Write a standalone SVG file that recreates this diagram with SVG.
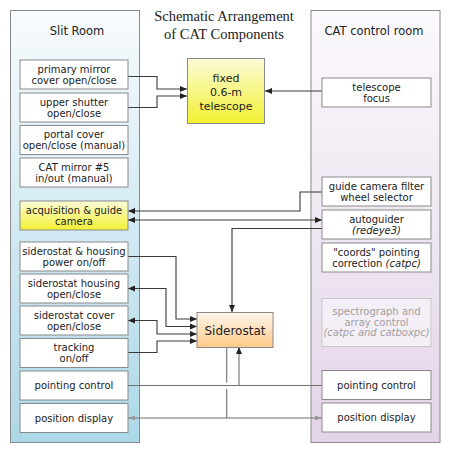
<svg xmlns="http://www.w3.org/2000/svg" width="452" height="452" viewBox="0 0 452 452">
<style>
.bx{fill:#fff;stroke:#8a8a8a;stroke-width:1}
.t{font-family:"DejaVu Sans",Verdana,sans-serif;font-size:10px;fill:#222;text-anchor:middle}
.it{font-style:italic}
.hd{font-family:"DejaVu Sans",Verdana,sans-serif;font-size:11.5px;fill:#222;text-anchor:middle}
.ttl{font-family:"Liberation Serif","Times New Roman",serif;font-size:14.5px;fill:#222;text-anchor:middle}
.ln{fill:none;stroke:#3a3a3a;stroke-width:1.1}
.lg{fill:none;stroke:#707070;stroke-width:1.1}
</style>
<defs>
<linearGradient id="gL" x1="0" y1="0" x2="0" y2="1"><stop offset="0" stop-color="#f8fbfd"/><stop offset="1" stop-color="#acd8e8"/></linearGradient>
<linearGradient id="gR" x1="0" y1="0" x2="0" y2="1"><stop offset="0" stop-color="#fbf9fc"/><stop offset="1" stop-color="#e3d4e9"/></linearGradient>
<linearGradient id="gY" x1="0" y1="0" x2="0" y2="1"><stop offset="0" stop-color="#fcfcd8"/><stop offset="1" stop-color="#f3f032"/></linearGradient>
<linearGradient id="gO" x1="0" y1="0" x2="0" y2="1"><stop offset="0" stop-color="#fff6ec"/><stop offset="1" stop-color="#ffca88"/></linearGradient>
<marker id="ae" markerUnits="userSpaceOnUse" markerWidth="8" markerHeight="8" refX="7" refY="4" orient="auto"><path d="M0,1 L7,4 L0,7 Z" fill="#222"/></marker>
<marker id="as" markerUnits="userSpaceOnUse" markerWidth="8" markerHeight="8" refX="0" refY="4" orient="auto"><path d="M7,1 L0,4 L7,7 Z" fill="#222"/></marker>
<marker id="ge" markerUnits="userSpaceOnUse" markerWidth="8" markerHeight="8" refX="7" refY="4" orient="auto"><path d="M0,1.5 L7,4 L0,6.5 Z" fill="#999"/></marker>
<marker id="gs" markerUnits="userSpaceOnUse" markerWidth="8" markerHeight="8" refX="0" refY="4" orient="auto"><path d="M7,1.5 L0,4 L7,6.5 Z" fill="#999"/></marker>
</defs>
<rect width="452" height="452" fill="#fff"/>
<g id="slit-room">
<rect x="10.5" y="10.5" width="129" height="432" fill="url(#gL)" stroke="#8a8a8a"/>
<text class="hd" x="77" y="35">Slit Room</text>
</g>
<g id="control-room">
<rect x="311" y="10.5" width="129" height="432" fill="url(#gR)" stroke="#8a8a8a"/>
<text class="hd" x="374" y="35">CAT control room</text>
</g>
<g id="title">
<text class="ttl" x="224" y="21">Schematic Arrangement</text>
<text class="ttl" x="224" y="39">of CAT Components</text>
</g>
<g id="connectors">
<path class="ln" d="M128,76.5 H157 V89 H187" marker-end="url(#ae)"/>
<path class="ln" d="M128,107.5 H157 V96 H187" marker-end="url(#ae)"/>
<path class="ln" d="M322,91 H265" marker-end="url(#ae)"/>
<path class="ln" d="M322,192 H300 V211 H128" marker-end="url(#ae)"/>
<path class="ln" d="M128,220 H322" marker-start="url(#as)" marker-end="url(#ae)"/>
<path class="ln" d="M322,228.5 H232 V312" marker-end="url(#ae)"/>
<path class="ln" d="M128,256.5 H176 V319 H197" marker-end="url(#ae)"/>
<path class="ln" d="M128,288.5 H166 V326.5 H197" marker-start="url(#as)" marker-end="url(#ae)"/>
<path class="ln" d="M128,320.5 H157 V334 H197" marker-start="url(#as)" marker-end="url(#ae)"/>
<path class="ln" d="M128,352.5 H157 V341 H197" marker-end="url(#ae)"/>
<path class="lg" d="M128,385.5 H322"/>
<path class="lg" d="M239,385.5 V347" marker-end="url(#ae)"/>
<path class="lg" d="M226.7,347 V382.5 M226.7,389 V418"/>
<path class="lg" d="M128,418 H322" marker-start="url(#gs)" marker-end="url(#ge)"/>
</g>
<g id="telescope">
<rect x="187.5" y="58.5" width="77" height="65" fill="url(#gY)" stroke="#8a8a8a"/>
<text class="t" style="font-size:11px" x="226" y="82">fixed</text>
<text class="t" style="font-size:11px" x="226" y="96">0.6-m</text>
<text class="t" style="font-size:11px" x="226" y="110">telescope</text>
</g>
<g id="siderostat">
<rect x="197" y="312.5" width="76" height="35" fill="url(#gO)" stroke="#8a8a8a"/>
<text class="t" style="font-size:12px" x="235" y="335">Siderostat</text>
</g>
<g id="primary-mirror"><rect class="bx" x="20" y="60" width="108" height="29"/><text class="t" x="74" y="72.5">primary mirror</text><text class="t" x="74" y="83.5">cover open/close</text></g>
<g id="upper-shutter"><rect class="bx" x="20" y="93" width="108" height="29"/><text class="t" x="74" y="105.5">upper shutter</text><text class="t" x="74" y="116.5">open/close</text></g>
<g id="portal-cover"><rect class="bx" x="20" y="125.5" width="108" height="29"/><text class="t" x="74" y="138">portal cover</text><text class="t" x="74" y="149">open/close (manual)</text></g>
<g id="cat-mirror"><rect class="bx" x="20" y="158" width="108" height="29"/><text class="t" x="74" y="170.5">CAT mirror #5</text><text class="t" x="74" y="181.5">in/out (manual)</text></g>
<g id="acquisition"><rect x="20" y="201" width="108" height="29" fill="url(#gY)" stroke="#8a8a8a"/><text class="t" x="74" y="214">acquisition &amp; guide</text><text class="t" x="74" y="224.5">camera</text></g>
<g id="power"><rect class="bx" x="20" y="242" width="108" height="29"/><text class="t" x="74" y="254.5">siderostat &amp; housing</text><text class="t" x="74" y="265.5">power on/off</text></g>
<g id="housing"><rect class="bx" x="20" y="274" width="108" height="29"/><text class="t" x="74" y="286.5">siderostat housing</text><text class="t" x="74" y="297.5">open/close</text></g>
<g id="cover"><rect class="bx" x="20" y="306" width="108" height="29"/><text class="t" x="74" y="318.5">siderostat cover</text><text class="t" x="74" y="329.5">open/close</text></g>
<g id="tracking"><rect class="bx" x="20" y="338.5" width="108" height="29"/><text class="t" x="74" y="351">tracking</text><text class="t" x="74" y="362">on/off</text></g>
<g id="pointing-left"><rect class="bx" x="20" y="371" width="108" height="29"/><text class="t" x="74" y="389.3">pointing control</text></g>
<g id="display-left"><rect class="bx" x="20" y="403.5" width="108" height="29"/><text class="t" x="74" y="421.8">position display</text></g>
<g id="focus"><rect class="bx" x="322" y="78" width="109" height="29"/><text class="t" x="376.5" y="90.5">telescope</text><text class="t" x="376.5" y="101.5">focus</text></g>
<g id="filter"><rect class="bx" x="322" y="177" width="109" height="29"/><text class="t" x="376.5" y="189.5">guide camera filter</text><text class="t" x="376.5" y="200.5">wheel selector</text></g>
<g id="autoguider"><rect class="bx" x="322" y="210" width="109" height="29"/><text class="t" x="376.5" y="222.5">autoguider</text><text class="t it" x="376.5" y="233.5">(redeye3)</text></g>
<g id="coords"><rect class="bx" x="322" y="243" width="109" height="29"/><text class="t" x="376.5" y="255.5">"coords" pointing</text><text class="t" x="376.5" y="266.5">correction <tspan class="it">(catpc)</tspan></text></g>
<g id="spectrograph"><rect x="322" y="298.5" width="109" height="48" fill="#f4eff6" stroke="#c8c8c8"/><text class="t" style="fill:#a0a0a0" x="376.5" y="315">spectrograph and</text><text class="t" style="fill:#a0a0a0" x="376.5" y="325.7">array control</text><text class="t it" style="fill:#a0a0a0" x="376.5" y="336.4">(catpc and catboxpc)</text></g>
<g id="pointing-right"><rect class="bx" x="322" y="370.5" width="109" height="29"/><text class="t" x="376.5" y="388.8">pointing control</text></g>
<g id="display-right"><rect class="bx" x="322" y="403" width="109" height="29"/><text class="t" x="376.5" y="421.3">position display</text></g>
</svg>
